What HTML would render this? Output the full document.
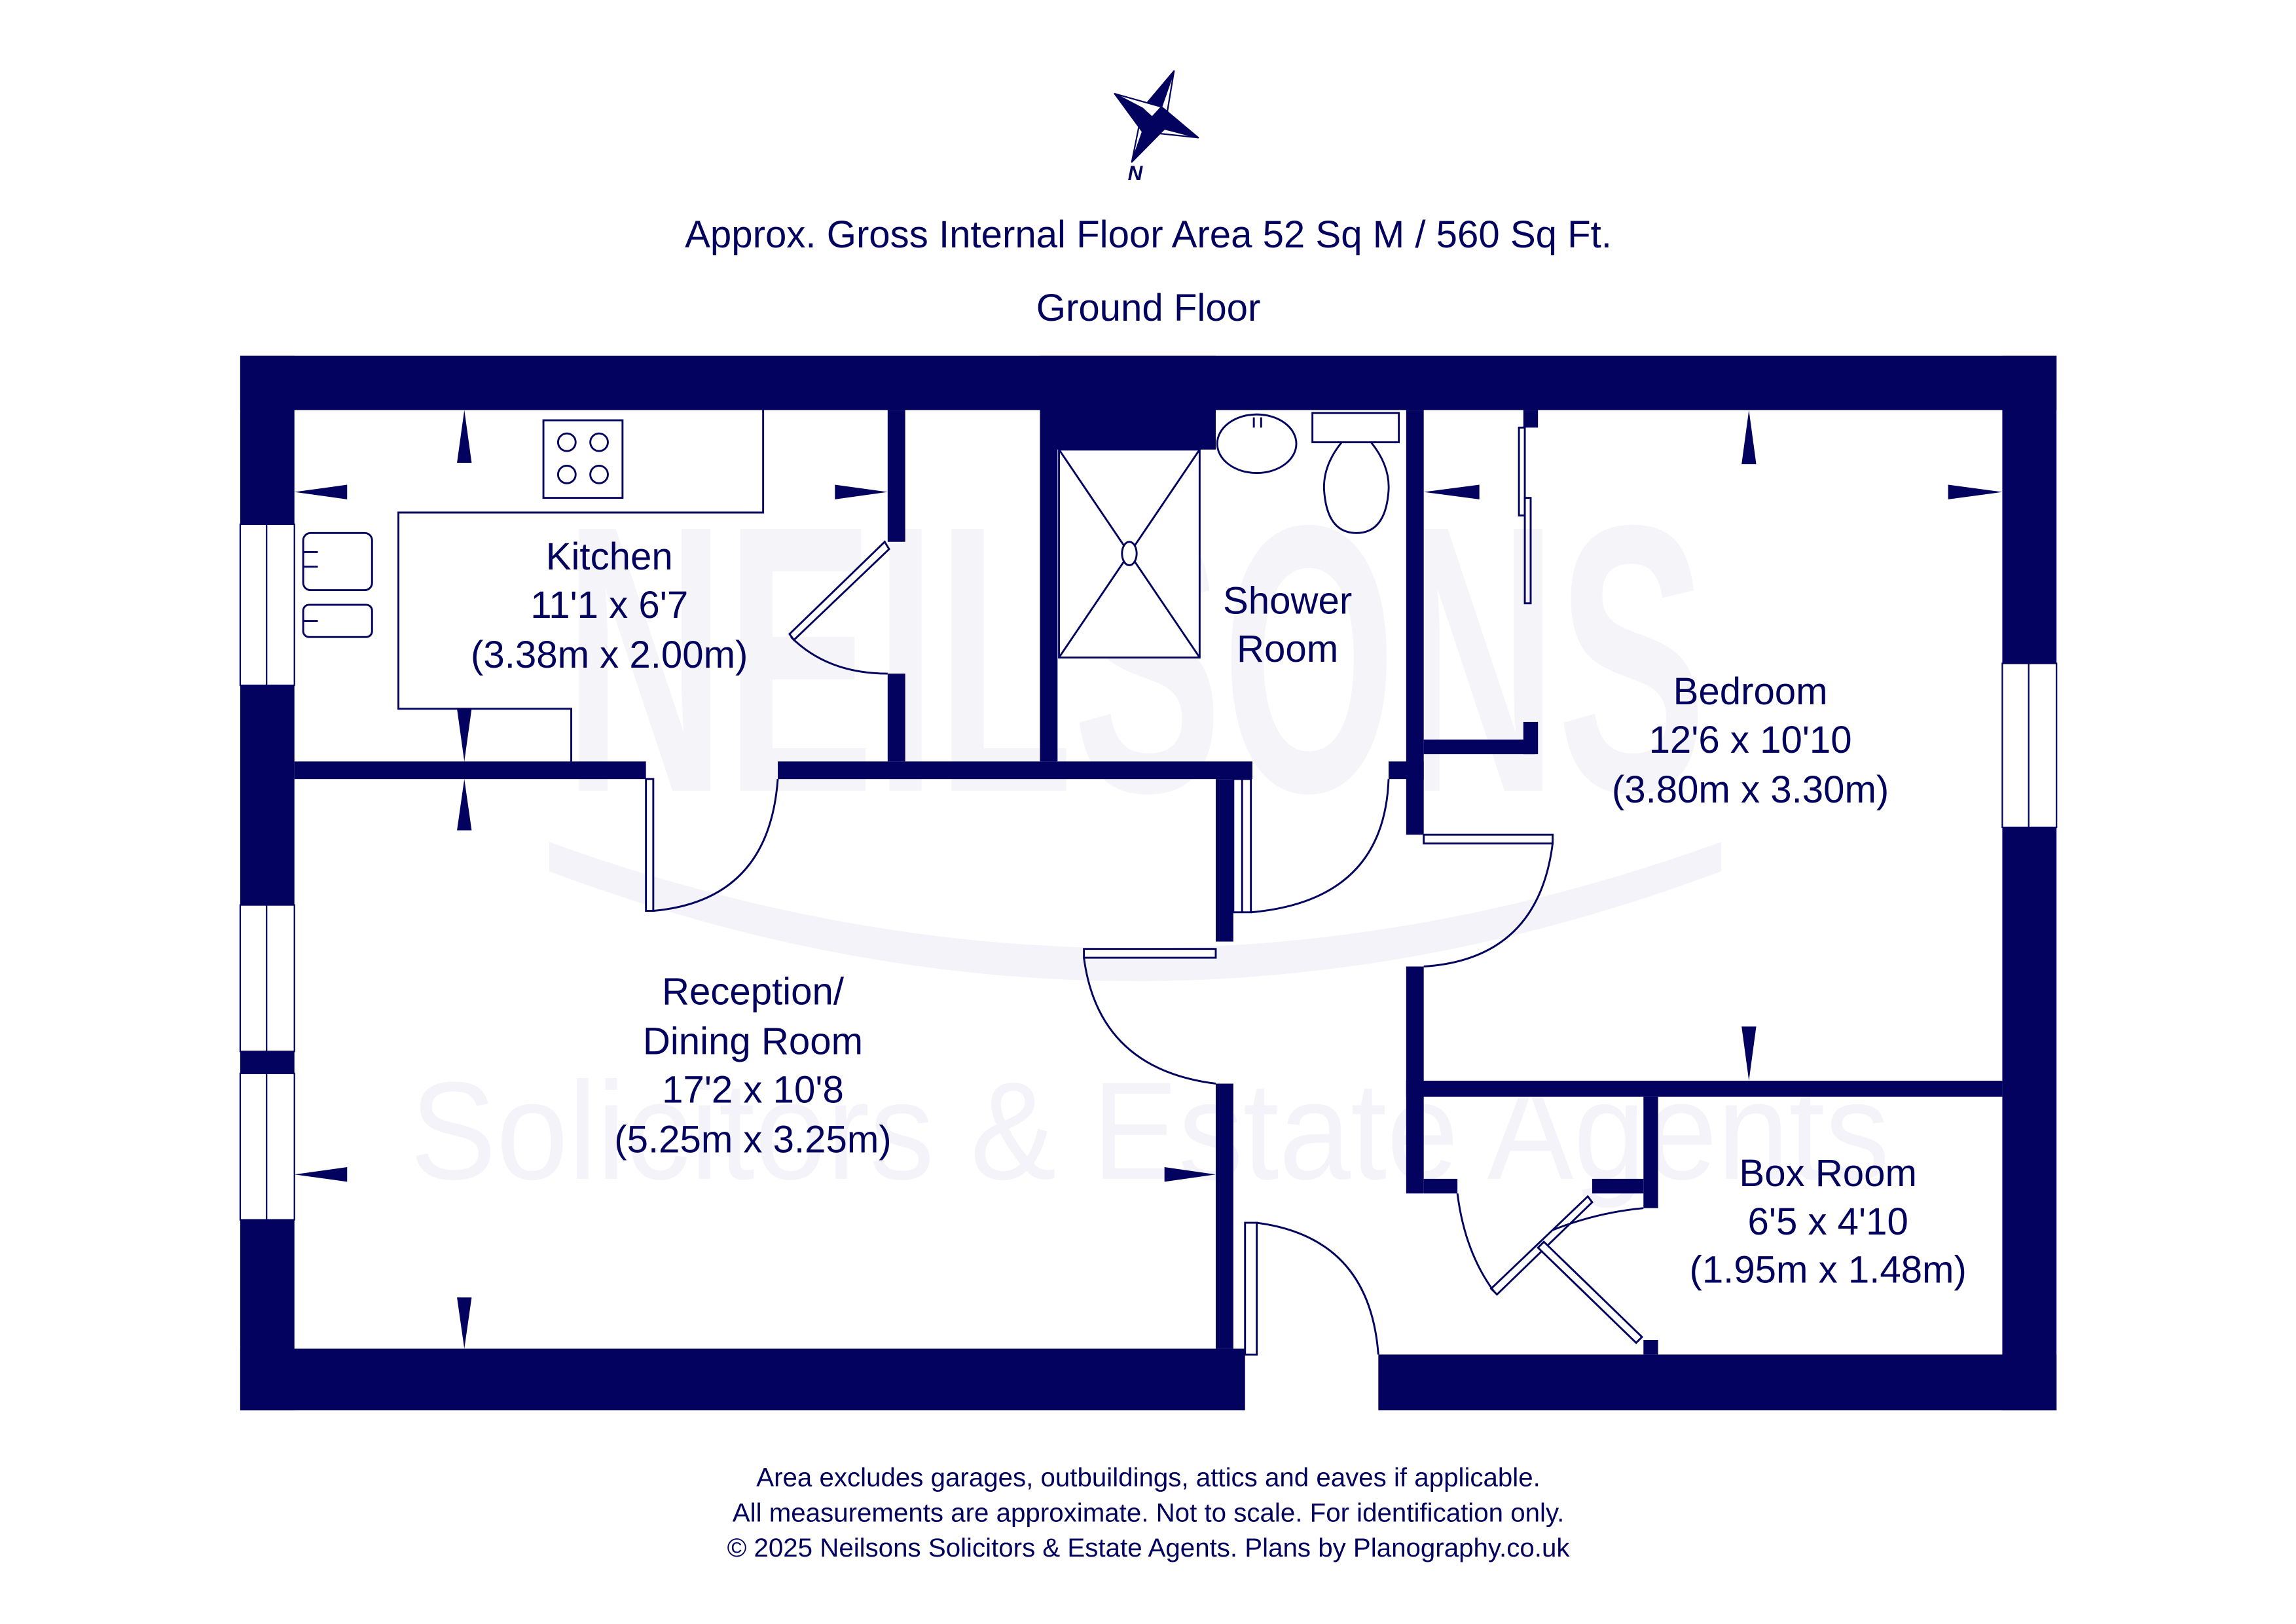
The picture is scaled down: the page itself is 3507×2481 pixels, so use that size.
<!DOCTYPE html>
<html><head><meta charset="utf-8"><style>
html,body{margin:0;padding:0;background:#fff;}
svg{display:block;}
text{font-family:"Liberation Sans","DejaVu Sans",sans-serif;fill:#03035f;}
</style></head><body>
<svg width="3507" height="2481" viewBox="0 0 1567.5 1109" preserveAspectRatio="none" xmlns="http://www.w3.org/2000/svg">
<rect width="1568" height="1109" fill="#fff"/>
<g fill="#f3f3f9">
<text x="775" y="540" text-anchor="middle" font-size="260" font-weight="bold" style="font-family:'Liberation Sans',sans-serif;fill:#f4f4f9" textLength="780" lengthAdjust="spacingAndGlyphs">NEILSONS</text>
<text x="785" y="805" text-anchor="middle" font-size="95" style="fill:#f3f3f9" textLength="1010" lengthAdjust="spacingAndGlyphs">Solicitors &amp; Estate Agents</text>
</g>
<path d="M375 575 Q775 720 1175 575 L1175 595 Q775 745 375 595 Z" fill="#f3f3f9"/>

<g transform="translate(7,2)">
<g stroke="#03035f" stroke-width="1" stroke-linejoin="round">
<polygon points="794.5,46.5 786,71 779.5,78 773,72" fill="#03035f"/>
<polygon points="794.5,46.5 786,71 779.5,78 788,86" fill="#fff"/>
<polygon points="811,92 788,86 779.5,78 786,71" fill="#03035f"/>
<polygon points="811,92 788,86 779.5,78 773,88" fill="#fff"/>
<polygon points="765.7,108.6 773,88 779.5,78 788,86" fill="#03035f"/>
<polygon points="765.7,108.6 773,88 779.5,78 773,72" fill="#fff"/>
<polygon points="754,62 773,72 779.5,78 773,88" fill="#03035f"/>
<polygon points="754,62 773,72 779.5,78 786,71" fill="#fff"/>
</g>
<text x="768" y="121" font-size="14" font-style="italic" font-weight="bold" text-anchor="middle">N</text>
</g>

<text x="784" y="169" font-size="26" text-anchor="middle">Approx. Gross Internal Floor Area 52 Sq M / 560 Sq Ft.</text>
<text x="784" y="219" font-size="26" text-anchor="middle">Ground Floor</text>

<g fill="#03035f">
<rect x="164" y="243" width="1240" height="37"/>
<rect x="710" y="243" width="120" height="64"/>
<rect x="164" y="243" width="37" height="720"/>
<rect x="1367" y="243" width="37" height="720"/>
<rect x="164" y="921" width="686" height="42"/>
<rect x="941" y="925" width="463" height="38"/>
<rect x="201" y="520" width="240" height="12"/>
<rect x="531" y="520" width="324" height="12"/>
<rect x="606" y="280" width="12" height="90"/>
<rect x="606" y="460" width="12" height="60"/>
<rect x="710" y="280" width="12" height="240"/>
<rect x="960" y="280" width="12" height="290"/>
<rect x="948" y="520" width="24" height="12"/>
<rect x="972" y="505" width="76" height="10"/>
<rect x="1040" y="493" width="10" height="22"/>
<rect x="1040" y="280" width="10" height="12"/>
<rect x="960" y="660" width="12" height="155"/>
<rect x="830" y="532" width="12" height="111"/>
<rect x="830" y="740" width="12" height="181"/>
<rect x="960" y="738" width="407" height="11"/>
<rect x="972" y="805" width="23" height="10"/>
<rect x="1122" y="749" width="10" height="76"/>
<rect x="1087" y="805" width="35" height="10"/>
<rect x="1122" y="915" width="10" height="10"/>
</g>
<g fill="#fff" stroke="#03035f" stroke-width="1">
<rect x="164" y="358" width="37" height="110"/><line x1="182" y1="358" x2="182" y2="468"/>
<rect x="164" y="618" width="37" height="100"/><line x1="182" y1="618" x2="182" y2="718"/>
<rect x="164" y="733" width="37" height="100"/><line x1="182" y1="733" x2="182" y2="833"/>
<rect x="1367" y="453" width="37" height="112"/><line x1="1385" y1="453" x2="1385" y2="565"/>
</g>

<g fill="none" stroke="#03035f" stroke-width="1.3">
<polyline points="521,280 521,350 272,350 272,484 390,484 390,520"/>
<rect x="371" y="287" width="54" height="53"/>
<circle cx="387" cy="302" r="6"/><circle cx="409" cy="302" r="6"/>
<circle cx="387" cy="324" r="6"/><circle cx="409" cy="324" r="6"/>
<rect x="207" y="364" width="47" height="39" rx="5"/>
<line x1="207" y1="377" x2="217" y2="377"/><line x1="207" y1="387" x2="217" y2="387"/>
<rect x="207" y="413" width="47" height="22" rx="4"/>
<line x1="207" y1="424" x2="217" y2="424"/>
<polygon points="604,370 607,375 542,437 539,433" fill="#fff"/>
<path d="M540,435 Q565,460 606,460"/>
<rect x="441" y="532" width="5" height="90" fill="#fff"/>
<path d="M446,622 Q525,615 531,532"/>
<rect x="723" y="307" width="96" height="142" fill="#fff"/>
<line x1="723" y1="307" x2="819" y2="449"/><line x1="819" y1="307" x2="723" y2="449"/>
<ellipse cx="771" cy="378" rx="5" ry="8" fill="#fff"/>
<ellipse cx="858" cy="303" rx="27" ry="20" fill="#fff"/>
<line x1="856" y1="285" x2="856" y2="292"/><line x1="861" y1="285" x2="861" y2="292"/>
<rect x="896" y="282" width="59" height="20" fill="#fff"/>
<path d="M916,302 Q903,318 904,335 Q906,364 926,364 Q946,364 948,335 Q949,318 936,302"/>
<rect x="1037" y="292" width="4" height="60"/>
<rect x="1041" y="340" width="4" height="72"/>
<rect x="842" y="532" width="12" height="91" fill="#fff"/>
<line x1="848" y1="532" x2="848" y2="623"/>
<path d="M854,623 Q945,615 948,532"/>
<rect x="972" y="570" width="88" height="6" fill="#fff"/>
<path d="M1060,576 Q1050,655 972,660"/>
<rect x="740" y="648" width="90" height="6" fill="#fff"/>
<path d="M740,654 Q750,730 830,740"/>
<rect x="850" y="835" width="8" height="90" fill="#fff"/>
<path d="M858,835 Q935,845 941,925"/>
<polygon points="1084,817 1087,821 1022,884 1018,880" fill="#fff"/>
<polygon points="1054,848 1121,913 1117,917 1050,852" fill="#fff"/>
<path d="M995,815 Q1000,855 1020,882"/>
<path d="M1060,840 Q1090,828 1122,825"/>
</g>

<g fill="#03035f">
<polygon points="317,280 312,316 322,316"/>
<polygon points="317,520 312,484 322,484"/>
<polygon points="201,336 237,331 237,341"/>
<polygon points="606,336 570,331 570,341"/>
<polygon points="317,532 312,567 322,567"/>
<polygon points="317,921 312,886 322,886"/>
<polygon points="201,802 237,797 237,807"/>
<polygon points="830,802 795,797 795,807"/>
<polygon points="1194,280 1189,317 1199,317"/>
<polygon points="1194,738 1189,701 1199,701"/>
<polygon points="972,336 1010,331 1010,341"/>
<polygon points="1367,336 1330,331 1330,341"/>
</g>

<g font-size="26" text-anchor="middle">
<text x="416" y="389">Kitchen</text>
<text x="416" y="422">11'1 x 6'7</text>
<text x="416" y="456">(3.38m x 2.00m)</text>
<text x="879" y="419">Shower</text>
<text x="879" y="452">Room</text>
<text x="1195" y="481">Bedroom</text>
<text x="1195" y="514">12'6 x 10'10</text>
<text x="1195" y="548">(3.80m x 3.30m)</text>
<text x="514" y="686">Reception/</text>
<text x="514" y="720">Dining Room</text>
<text x="514" y="753">17'2 x 10'8</text>
<text x="514" y="787">(5.25m x 3.25m)</text>
<text x="1248" y="810">Box Room</text>
<text x="1248" y="843">6'5 x 4'10</text>
<text x="1248" y="876">(1.95m x 1.48m)</text>
</g>
<g font-size="18" text-anchor="middle">
<text x="784" y="1015">Area excludes garages, outbuildings, attics and eaves if applicable.</text>
<text x="784" y="1039">All measurements are approximate. Not to scale. For identification only.</text>
<text x="784" y="1063">© 2025 Neilsons Solicitors &amp; Estate Agents. Plans by Planography.co.uk</text>
</g>
</svg>
</body></html>
